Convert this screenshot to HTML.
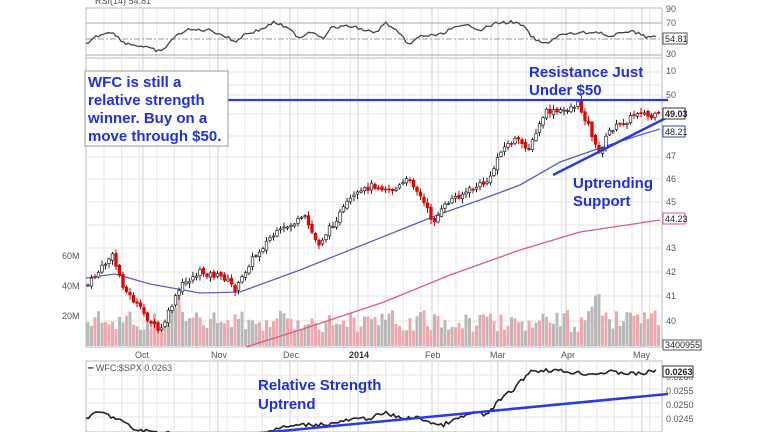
<!DOCTYPE html>
<html><head><meta charset="utf-8"><style>
html,body{margin:0;padding:0;background:#fff;width:768px;height:432px;overflow:hidden}
svg{display:block}
.ax{font-family:"Liberation Sans",sans-serif;font-size:9px;fill:#555}
.ann{font-family:"Liberation Sans",sans-serif;font-size:15px;font-weight:bold;fill:#1f2fe8}
</style></head><body>
<svg id="s" width="768" height="432" xmlns="http://www.w3.org/2000/svg">
<rect x="0" y="0" width="768" height="432" fill="#fff"/>
<g id="grid"></g>
<g id="vol"></g>
<polyline id="ma50" fill="none" stroke="#5a5fc8" stroke-width="1.3"/>
<polyline id="ma200" fill="none" stroke="#e05a78" stroke-width="1.3"/>
<g id="cand"></g>
<polyline id="rsi" fill="none" stroke="#444" stroke-width="1.3"/>
<polyline id="rs" fill="none" stroke="#222" stroke-width="1.6"/>
<line x1="228" y1="100" x2="668" y2="100" stroke="#2a3ae8" stroke-width="2.2"/>
<line x1="553" y1="175" x2="670" y2="116" stroke="#2a3ae8" stroke-width="2.5"/>
<line x1="250" y1="434" x2="668" y2="394" stroke="#2a3ae8" stroke-width="2.5"/>
<rect x="85" y="71" width="143" height="75" fill="#fff" stroke="#999" stroke-width="1"/>
<text class="ann" x="88" y="87">WFC is still a</text>
<text class="ann" x="88" y="105">relative strength</text>
<text class="ann" x="88" y="123">winner. Buy on a</text>
<text class="ann" x="88" y="141">move through $50.</text>
<text class="ann" x="529" y="77">Resistance Just</text>
<text class="ann" x="529" y="95">Under $50</text>
<text class="ann" x="573" y="188">Uptrending</text>
<text class="ann" x="573" y="206">Support</text>
<text class="ann" x="258" y="390">Relative Strength</text>
<text class="ann" x="258" y="409">Uptrend</text>
<g class="ax">
<text x="95" y="4">RSI(14) 54.81</text>
<text x="666" y="12">90</text><text x="666" y="26">70</text><text x="666" y="57">30</text><text x="666" y="74">10</text>
<text x="666" y="98">50</text><text x="666" y="159">47</text><text x="666" y="182">46</text><text x="666" y="205">45</text>
<text x="666" y="251">43</text><text x="666" y="275">42</text><text x="666" y="299">41</text><text x="666" y="324">40</text>
<text x="62" y="259">60M</text><text x="62" y="289">40M</text><text x="62" y="319">20M</text>
<text x="135" y="358">Oct</text><text x="211" y="358">Nov</text><text x="283" y="358">Dec</text>
<text x="349" y="358" font-weight="bold" fill="#333">2014</text><text x="425" y="358">Feb</text>
<text x="490" y="358">Mar</text><text x="561" y="358">Apr</text><text x="633" y="358">May</text>
<text x="88" y="371">━ WFC:$SPX 0.0263</text>
<text x="666" y="380">0.0260</text><text x="666" y="394">0.0255</text><text x="666" y="408">0.0250</text><text x="666" y="422">0.0245</text>
</g>
<g font-family="Liberation Sans,sans-serif" font-size="9" fill="#222">
<rect x="663" y="108" width="22" height="11" fill="#fff" stroke="#333"/><text x="665" y="117" font-weight="bold">49.03</text>
<rect x="663" y="126" width="22" height="11" fill="#fff" stroke="#3340c0"/><text x="665" y="135">48.21</text>
<rect x="663" y="213" width="22" height="11" fill="#fff" stroke="#e05a78"/><text x="665" y="222">44.23</text>
<rect x="663" y="33" width="24" height="11" fill="#fff" stroke="#555"/><text x="665" y="42">54.81</text>
<rect x="663" y="340" width="38" height="10" fill="#fff" stroke="#555"/><text x="665" y="348">3400955</text>
<rect x="663" y="366" width="30" height="11" fill="#fff" stroke="#333"/><text x="665" y="375" font-weight="bold">0.0263</text>
</g>
</svg>
<script>
var NS="http://www.w3.org/2000/svg";
function el(p,t,a){var e=document.createElementNS(NS,t);for(var k in a)e.setAttribute(k,a[k]);document.getElementById(p).appendChild(e);return e;}
var L=86,R=662;
[[8,58],[58,347],[361,432]].forEach(function(p){
 el("grid","rect",{x:L,y:p[0],width:R-L,height:p[1]-p[0],fill:"none",stroke:"#bbb"});
});
for(var x=L+18;x<R;x+=17.6){[[8,58],[58,347],[361,432]].forEach(function(p){el("grid","line",{x1:x,y1:p[0],x2:x,y2:p[1],stroke:"#e6e6e6"});});}
[143,218,290,358,432,498,566,642].forEach(function(x){[[8,58],[58,347],[361,432]].forEach(function(p){el("grid","line",{x1:x,y1:p[0],x2:x,y2:p[1],stroke:"#cfcfcf"});});});
[23,55].forEach(function(y){el("grid","line",{x1:L,y1:y,x2:R,y2:y,stroke:"#aaa"});});
el("grid","line",{x1:L,y1:39,x2:R,y2:39,stroke:"#999","stroke-dasharray":"6,2,2,2"});
[72,85,95,114,136,157,179,202,225,248,272,296,321].forEach(function(y){el("grid","line",{x1:L,y1:y,x2:R,y2:y,stroke:"#e4e4e4"});});
[375,389,403,417].forEach(function(y){el("grid","line",{x1:L,y1:y,x2:R,y2:y,stroke:"#e4e4e4"});});
function interp(pts,x){for(var i=0;i<pts.length-1;i++){if(x>=pts[i][0]&&x<=pts[i+1][0]){var t=(x-pts[i][0])/(pts[i+1][0]-pts[i][0]);return pts[i][1]+t*(pts[i+1][1]-pts[i][1]);}}return pts[pts.length-1][1];}
var seed=7;function rnd(){seed=(seed*9301+49297)%233280;return seed/233280;}
var price=[[88,285],[112,255],[125,290],[145,315],[160,333],[172,305],[182,285],[200,272],[225,278],[236,290],[250,262],[270,238],[290,225],[305,218],[318,245],[330,228],[350,200],[372,185],[395,190],[410,178],[425,205],[433,222],[450,200],[470,190],[490,180],[500,150],[515,140],[530,148],[545,112],[560,112],[578,104],[590,128],[598,155],[610,130],[625,122],[640,110],[650,118],[658,115]];
var ma50=[[86,278],[115,274],[150,284],[200,293],[240,292],[300,270],[350,250],[400,230],[440,214],[480,200],[520,185],[560,162],[600,148],[640,135],[660,129]];
var ma200=[[246,347],[300,330],[384,302],[450,275],[520,250],[580,232],[660,220]];
document.getElementById("ma50").setAttribute("points",ma50.map(function(p){return p.join(",")}).join(" "));
document.getElementById("ma200").setAttribute("points",ma200.map(function(p){return p.join(",")}).join(" "));
var prev=interp(price,88);
for(var x=88;x<660;x+=3.5){
 var c=interp(price,x)+(rnd()-0.5)*6;var o=prev+(rnd()-0.5)*3;
 var hi=Math.min(o,c)-rnd()*4-1,lo=Math.max(o,c)+rnd()*4+1;
 var up=c<o;var col=up?"#222":"#d00";
 el("cand","line",{x1:x,y1:hi,x2:x,y2:lo,stroke:col,"stroke-width":1});
 el("cand","rect",{x:x-1.3,y:Math.min(o,c),width:2.6,height:Math.max(1,Math.abs(c-o)),fill:up?"#fff":"#e00",stroke:col,"stroke-width":0.7});
 prev=c;
 var h=14+rnd()*22+(Math.abs(x-176)<6?24:0)+(Math.abs(x-596)<6?20:0);
 el("vol","rect",{x:x-1.5,y:346-h,width:3,height:h,fill:rnd()<0.5?"#f0a8ae":"#b8b8b8"});
}
var rsi=[[86,44],[95,37],[110,31],[125,43],[140,46],[155,50],[162,52],[170,41],[185,30],[210,30],[225,36],[235,42],[245,34],[260,30],[275,22],[290,30],[300,38],[310,31],[325,38],[330,28],[350,26],[375,33],[386,23],[395,30],[410,45],[420,36],[440,35],[450,29],[470,25],[480,30],[497,23],[512,22],[522,25],[535,40],[545,44],[560,35],[580,33],[600,32],[610,38],[625,31],[640,33],[648,38],[655,36]];
var pts=[];for(var x=86;x<=656;x+=2.5){pts.push(x+","+(interp(rsi,x)+(rnd()-0.5)*3).toFixed(1));}
document.getElementById("rsi").setAttribute("points",pts.join(" "));
var rs=[[86,418],[100,412],[120,420],[135,430],[200,436],[250,436],[280,428],[300,425],[330,424],[350,420],[370,418],[385,413],[400,418],[420,418],[440,426],[460,418],[475,412],[485,416],[500,400],[515,388],[530,371],[550,370],[570,372],[590,374],[610,372],[640,374],[658,370]];
pts=[];for(var x=86;x<=658;x+=2.5){pts.push(x+","+(interp(rs,x)+(rnd()-0.5)*4).toFixed(1));}
document.getElementById("rs").setAttribute("points",pts.join(" "));
</script>
</body></html>
